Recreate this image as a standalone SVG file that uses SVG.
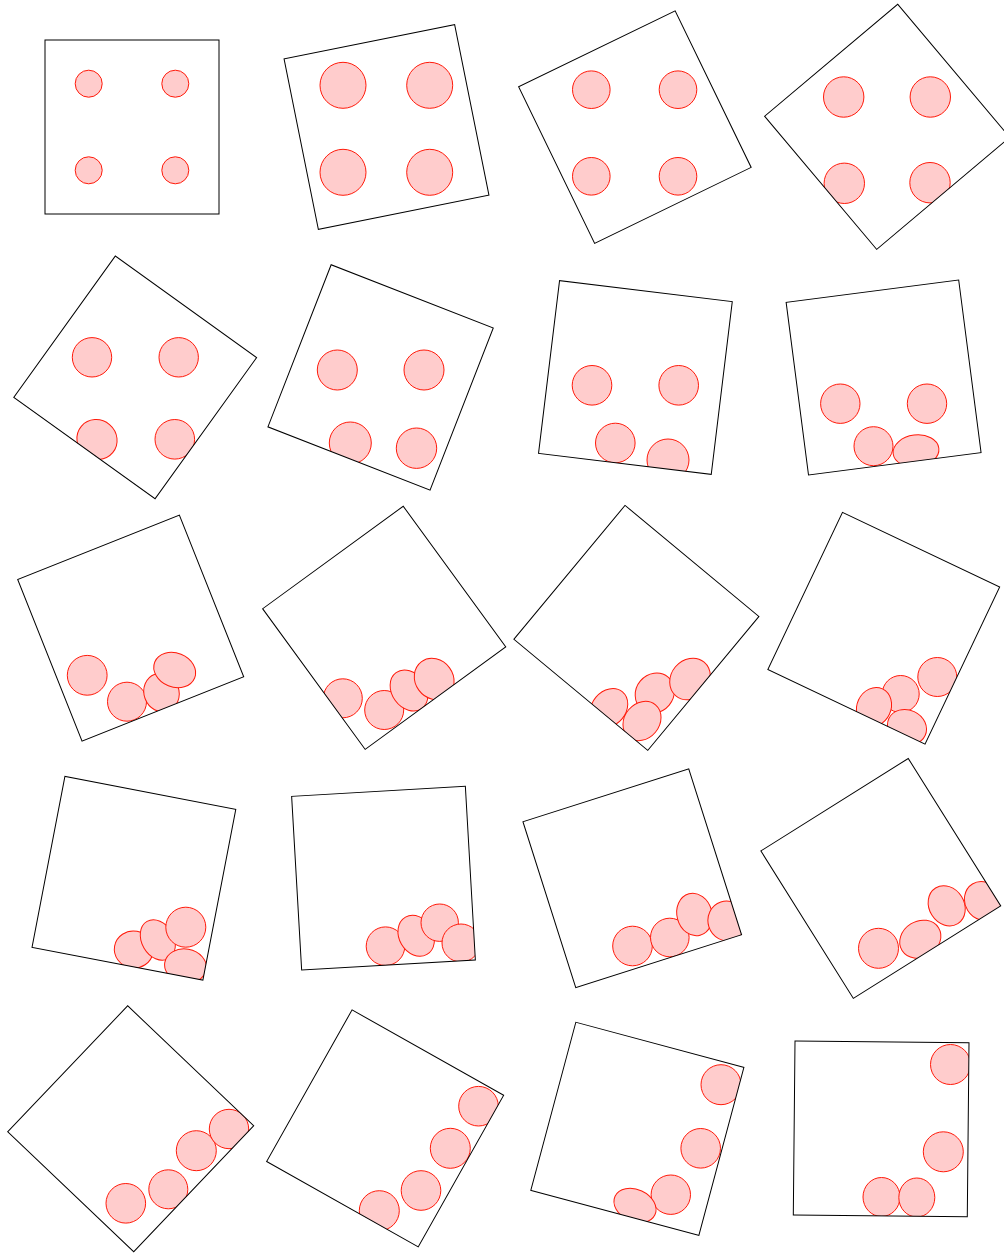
<svg xmlns="http://www.w3.org/2000/svg" width="1004" height="1253" viewBox="0 0 1004 1253">
<style>
.box{fill:none;stroke:#000;stroke-width:1}
.blob{fill:#ffcccc;stroke:#ff1a0a;stroke-width:1}
</style>
<defs>
<clipPath id="c1"><rect x="-87" y="-87" width="174" height="174" transform="translate(132,127)"/></clipPath>
<clipPath id="c2"><rect x="-87" y="-87" width="174" height="174" transform="translate(386.5,127) rotate(-11.37)"/></clipPath>
<clipPath id="c3"><rect x="-87" y="-87" width="174" height="174" transform="translate(634.9,127.1) rotate(-25.9)"/></clipPath>
<clipPath id="c4"><rect x="-87" y="-87" width="174" height="174" transform="translate(887.2,126.8) rotate(-40.1)"/></clipPath>
<clipPath id="c5"><rect x="-87" y="-87" width="174" height="174" transform="translate(135.2,377.4) rotate(35.7)"/></clipPath>
<clipPath id="c6"><rect x="-87" y="-87" width="174" height="174" transform="translate(380.6,377.4) rotate(21.3)"/></clipPath>
<clipPath id="c7"><rect x="-87" y="-87" width="174" height="174" transform="translate(635.4,377.5) rotate(6.94)"/></clipPath>
<clipPath id="c8"><rect x="-87" y="-87" width="174" height="174" transform="translate(883.6,377.5) rotate(-7.39)"/></clipPath>
<clipPath id="c9"><rect x="-87" y="-87" width="174" height="174" transform="translate(130.7,628.1) rotate(-21.7)"/></clipPath>
<clipPath id="c10"><rect x="-87" y="-87" width="174" height="174" transform="translate(384.2,627.8) rotate(-36.1)"/></clipPath>
<clipPath id="c11"><rect x="-87" y="-87" width="174" height="174" transform="translate(636.4,627.9) rotate(39.7)"/></clipPath>
<clipPath id="c12"><rect x="-87" y="-87" width="174" height="174" transform="translate(883.75,628.2) rotate(25.4)"/></clipPath>
<clipPath id="c13"><rect x="-87" y="-87" width="174" height="174" transform="translate(133.9,878.3) rotate(10.9)"/></clipPath>
<clipPath id="c14"><rect x="-87" y="-87" width="174" height="174" transform="translate(383.5,878.2) rotate(-3.3)"/></clipPath>
<clipPath id="c15"><rect x="-87" y="-87" width="174" height="174" transform="translate(632.25,878.25) rotate(-17.67)"/></clipPath>
<clipPath id="c16"><rect x="-87" y="-87" width="174" height="174" transform="translate(880.8,878.4) rotate(-32.1)"/></clipPath>
<clipPath id="c17"><rect x="-87" y="-87" width="174" height="174" transform="translate(130.7,1128.8) rotate(43.6)"/></clipPath>
<clipPath id="c18"><rect x="-87" y="-87" width="174" height="174" transform="translate(385.15,1128.4) rotate(29.4)"/></clipPath>
<clipPath id="c19"><rect x="-87" y="-87" width="174" height="174" transform="translate(637.35,1128.8) rotate(15)"/></clipPath>
<clipPath id="c20"><rect x="-87" y="-87" width="174" height="174" transform="translate(881.15,1128.9) rotate(0.56)"/></clipPath>
</defs>
<rect width="1004" height="1253" fill="#fff"/>

<g id="box1">
<g clip-path="url(#c1)">
<circle class="blob" cx="88.7" cy="83.7" r="13.5"/><circle class="blob" cx="175.3" cy="83.7" r="13.5"/>
<circle class="blob" cx="88.7" cy="170.3" r="13.5"/><circle class="blob" cx="175.3" cy="170.3" r="13.5"/>
</g>
<rect class="box" x="-87" y="-87" width="174" height="174" transform="translate(132,127)"/>
</g>

<g id="box2">
<g clip-path="url(#c2)">
<circle class="blob" cx="343" cy="85.3" r="23"/><circle class="blob" cx="429.7" cy="85.3" r="23"/>
<circle class="blob" cx="343" cy="172.3" r="23"/><circle class="blob" cx="429.7" cy="172.3" r="23"/>
</g>
<rect class="box" x="-87" y="-87" width="174" height="174" transform="translate(386.5,127) rotate(-11.37)"/>
</g>

<g id="box3">
<g clip-path="url(#c3)">
<circle class="blob" cx="591.3" cy="89.7" r="18.8"/><circle class="blob" cx="678" cy="89.7" r="18.8"/>
<circle class="blob" cx="591.3" cy="176.3" r="18.8"/><circle class="blob" cx="678" cy="176.3" r="18.8"/>
</g>
<rect class="box" x="-87" y="-87" width="174" height="174" transform="translate(634.9,127.1) rotate(-25.9)"/>
</g>

<g id="box4">
<g clip-path="url(#c4)">
<circle class="blob" cx="843.7" cy="97" r="20.2"/><circle class="blob" cx="930.3" cy="97" r="20.2"/>
<circle class="blob" cx="844.3" cy="183.3" r="20.2"/><circle class="blob" cx="930" cy="182.7" r="20.2"/>
</g>
<rect class="box" x="-87" y="-87" width="174" height="174" transform="translate(887.2,126.8) rotate(-40.1)"/>
</g>

<g id="box5">
<g clip-path="url(#c5)">
<circle class="blob" cx="92" cy="357.3" r="19.7"/><circle class="blob" cx="178.7" cy="357.3" r="19.7"/>
<ellipse class="blob" cx="97" cy="439.5" rx="20.5" ry="19.5" transform="rotate(40 97 439.5)"/>
<circle class="blob" cx="174.8" cy="439.3" r="19.8"/>
</g>
<rect class="box" x="-87" y="-87" width="174" height="174" transform="translate(135.2,377.4) rotate(35.7)"/>
</g>

<g id="box6">
<g clip-path="url(#c6)">
<circle class="blob" cx="337.3" cy="370" r="20"/><circle class="blob" cx="424" cy="370" r="20"/>
<circle class="blob" cx="350.3" cy="443" r="21"/>
<circle class="blob" cx="416.5" cy="448.2" r="20.2"/>
</g>
<rect class="box" x="-87" y="-87" width="174" height="174" transform="translate(380.6,377.4) rotate(21.3)"/>
</g>

<g id="box7">
<g clip-path="url(#c7)">
<circle class="blob" cx="592" cy="385.3" r="19.8"/><circle class="blob" cx="678.7" cy="385.3" r="19.8"/>
<circle class="blob" cx="615.3" cy="443" r="19.8"/>
<circle class="blob" cx="668" cy="460" r="21"/>
</g>
<rect class="box" x="-87" y="-87" width="174" height="174" transform="translate(635.4,377.5) rotate(6.94)"/>
</g>

<g id="box8">
<g clip-path="url(#c8)">
<circle class="blob" cx="840.3" cy="403.7" r="19.7"/><circle class="blob" cx="927" cy="403.7" r="19.7"/>
<circle class="blob" cx="873.5" cy="446.2" r="19.5"/>
<ellipse class="blob" cx="916" cy="451" rx="23" ry="16" transform="rotate(-7 916 451)"/>
</g>
<rect class="box" x="-87" y="-87" width="174" height="174" transform="translate(883.6,377.5) rotate(-7.39)"/>
</g>

<g id="box9">
<g clip-path="url(#c9)">
<circle class="blob" cx="87.2" cy="675.3" r="19.9"/>
<circle class="blob" cx="127" cy="701.7" r="19.5"/>
<ellipse class="blob" cx="161.5" cy="692.5" rx="17.5" ry="19.5" transform="rotate(-20 161.5 692.5)"/>
<ellipse class="blob" cx="174.7" cy="670" rx="21.5" ry="17" transform="rotate(22 174.7 670)"/>
</g>
<rect class="box" x="-87" y="-87" width="174" height="174" transform="translate(130.7,628.1) rotate(-21.7)"/>
</g>

<g id="box10">
<g clip-path="url(#c10)">
<circle class="blob" cx="342.8" cy="698.3" r="19.5"/>
<circle class="blob" cx="384.2" cy="710" r="19.5"/>
<ellipse class="blob" cx="409" cy="690.5" rx="17" ry="22" transform="rotate(-36 409 690.5)"/>
<ellipse class="blob" cx="434.2" cy="679" rx="19" ry="21.5" transform="rotate(-36 434.2 679)"/>
</g>
<rect class="box" x="-87" y="-87" width="174" height="174" transform="translate(384.2,627.8) rotate(-36.1)"/>
</g>

<g id="box11">
<g clip-path="url(#c11)">
<ellipse class="blob" cx="654.8" cy="693" rx="18.8" ry="20.7" transform="rotate(40 654.8 693)"/>
<ellipse class="blob" cx="690" cy="679" rx="19" ry="22" transform="rotate(40 690 679)"/>
<ellipse class="blob" cx="609" cy="708" rx="17" ry="21" transform="rotate(40 609 708)"/>
<ellipse class="blob" cx="642" cy="721" rx="17.5" ry="21" transform="rotate(40 642 721)"/>
</g>
<rect class="box" x="-87" y="-87" width="174" height="174" transform="translate(636.4,627.9) rotate(39.7)"/>
</g>

<g id="box12">
<g clip-path="url(#c12)">
<circle class="blob" cx="937.3" cy="677" r="19.5"/>
<circle class="blob" cx="900.7" cy="694" r="18.5"/>
<ellipse class="blob" cx="874" cy="707" rx="17" ry="20" transform="rotate(25 874 707)"/>
<ellipse class="blob" cx="907" cy="727" rx="20" ry="17" transform="rotate(25 907 727)"/>
</g>
<rect class="box" x="-87" y="-87" width="174" height="174" transform="translate(883.75,628.2) rotate(25.4)"/>
</g>

<g id="box13">
<g clip-path="url(#c13)">
<ellipse class="blob" cx="133.8" cy="949.5" rx="19.5" ry="18.5" transform="rotate(10 133.8 949.5)"/>
<ellipse class="blob" cx="157.8" cy="940" rx="16" ry="21.5" transform="rotate(-30 157.8 940)"/>
<circle class="blob" cx="185.8" cy="927.2" r="20"/>
<ellipse class="blob" cx="185.5" cy="966" rx="21" ry="17" transform="rotate(10 185.5 966)"/>
</g>
<rect class="box" x="-87" y="-87" width="174" height="174" transform="translate(133.9,878.3) rotate(10.9)"/>
</g>

<g id="box14">
<g clip-path="url(#c14)">
<circle class="blob" cx="385.5" cy="946.2" r="19.3"/>
<ellipse class="blob" cx="416.2" cy="935.8" rx="17" ry="21.5" transform="rotate(-30 416.2 935.8)"/>
<circle class="blob" cx="439.7" cy="922.7" r="18.7"/>
<circle class="blob" cx="461" cy="943" r="19"/>
</g>
<rect class="box" x="-87" y="-87" width="174" height="174" transform="translate(383.5,878.2) rotate(-3.3)"/>
</g>

<g id="box15">
<g clip-path="url(#c15)">
<circle class="blob" cx="632.5" cy="946" r="19.8"/>
<circle class="blob" cx="669.8" cy="937.5" r="19.3"/>
<ellipse class="blob" cx="694.5" cy="914.5" rx="17.5" ry="21.5" transform="rotate(-15 694.5 914.5)"/>
<ellipse class="blob" cx="727" cy="921" rx="19" ry="20" transform="rotate(-18 727 921)"/>
</g>
<rect class="box" x="-87" y="-87" width="174" height="174" transform="translate(632.25,878.25) rotate(-17.67)"/>
</g>

<g id="box16">
<g clip-path="url(#c16)">
<circle class="blob" cx="878.5" cy="948.3" r="20"/>
<ellipse class="blob" cx="920.3" cy="939.2" rx="21.5" ry="18" transform="rotate(-32 920.3 939.2)"/>
<ellipse class="blob" cx="946.7" cy="905.8" rx="17.5" ry="21" transform="rotate(-32 946.7 905.8)"/>
<ellipse class="blob" cx="983" cy="901" rx="18" ry="20" transform="rotate(-32 983 901)"/>
</g>
<rect class="box" x="-87" y="-87" width="174" height="174" transform="translate(880.8,878.4) rotate(-32.1)"/>
</g>

<g id="box17">
<g clip-path="url(#c17)">
<circle class="blob" cx="125.8" cy="1203.3" r="19.8"/>
<circle class="blob" cx="168.3" cy="1189.3" r="19.5"/>
<circle class="blob" cx="196.3" cy="1150.7" r="20"/>
<circle class="blob" cx="229" cy="1129" r="19.7"/>
</g>
<rect class="box" x="-87" y="-87" width="174" height="174" transform="translate(130.7,1128.8) rotate(43.6)"/>
</g>

<g id="box18">
<g clip-path="url(#c18)">
<circle class="blob" cx="379.3" cy="1210.7" r="20"/>
<circle class="blob" cx="421" cy="1190.5" r="19.8"/>
<circle class="blob" cx="450.3" cy="1148.3" r="20"/>
<circle class="blob" cx="478.5" cy="1106.2" r="19.8"/>
</g>
<rect class="box" x="-87" y="-87" width="174" height="174" transform="translate(385.15,1128.4) rotate(29.4)"/>
</g>

<g id="box19">
<g clip-path="url(#c19)">
<circle class="blob" cx="721" cy="1084.7" r="20"/>
<circle class="blob" cx="700.7" cy="1148.3" r="19.8"/>
<circle class="blob" cx="670.8" cy="1194.7" r="19.7"/>
<ellipse class="blob" cx="635" cy="1205.5" rx="22" ry="16" transform="rotate(25 635 1205.5)"/>
</g>
<rect class="box" x="-87" y="-87" width="174" height="174" transform="translate(637.35,1128.8) rotate(15)"/>
</g>

<g id="box20">
<g clip-path="url(#c20)">
<circle class="blob" cx="950.5" cy="1064.5" r="20"/>
<circle class="blob" cx="943.3" cy="1151.8" r="20"/>
<ellipse class="blob" cx="881.5" cy="1197" rx="18.5" ry="19.5"/>
<ellipse class="blob" cx="916.8" cy="1197.5" rx="18" ry="19.5"/>
</g>
<rect class="box" x="-87" y="-87" width="174" height="174" transform="translate(881.15,1128.9) rotate(0.56)"/>
</g>
</svg>
